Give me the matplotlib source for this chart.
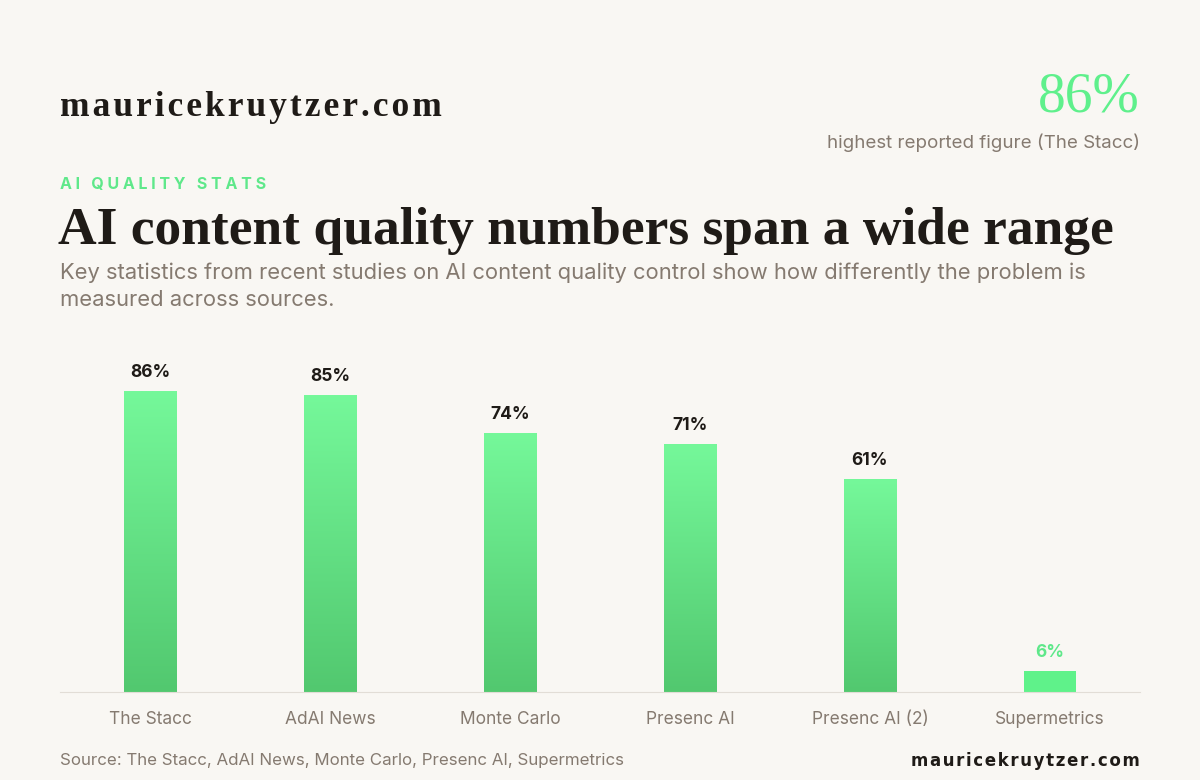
import matplotlib
matplotlib.use("Agg")
import matplotlib.pyplot as plt
import numpy as np
from matplotlib.colors import LinearSegmentedColormap

categories = ["The Stacc", "AdAI News", "Monte Carlo", "Presenc AI", "Presenc AI (2)", "Supermetrics"]
values = [86, 85, 74, 71, 61, 6]

BG = "#F9F7F3"
fig = plt.figure(figsize=(12, 7.8), dpi=100, facecolor=BG)
ax = fig.add_axes([60/1200, 1-692/780, 1080/1200, 349/780], facecolor=BG)

cmap = LinearSegmentedColormap.from_list("g", ["#52C86F", "#75F89A"])
grad = np.linspace(0, 1, 256).reshape(-1, 1)
w = 0.29
for i, (c, v) in enumerate(zip(categories, values)):
    if v < 10:
        ax.bar(i, v, width=w, color="#5FF28A", zorder=2)
        ax.text(i, v + 3, f"{v}%", ha="center", va="bottom", fontsize=12.5,
                color="#5FE88A", fontweight="bold", family="Inter")
    else:
        ax.imshow(grad, cmap=cmap, origin="lower", aspect="auto",
                  extent=(i - w/2, i + w/2, 0, v), zorder=2)
        ax.text(i, v + 3, f"{v}%", ha="center", va="bottom", fontsize=12.5,
                color="#1F1B17", fontweight="bold", family="Inter")
ax.set_xlim(-0.5, 5.5)
ax.set_ylim(0, 100)
ax.set_xticks(range(len(categories)))
ax.set_xticklabels(categories, fontsize=12.5, color="#857A70", family="Inter")
ax.tick_params(axis="x", length=0, pad=14)
ax.set_yticks([])
for s in ["top", "right", "left"]:
    ax.spines[s].set_visible(False)
ax.spines["bottom"].set_color("#E2DDD6")

hs = "\u200a"
fig.text(60/1200, 1-108/780, hs.join("mauricekruytzer.com"), fontsize=25.5, fontweight="bold",
         family="Liberation Serif", color="#1F1B17", va="center")
fig.text(1140/1200, 1-98/780, "86%", fontsize=40, family="Liberation Serif",
         color="#5FF08C", ha="right", va="center")
fig.text(1140/1200, 1-143/780, "highest reported figure (The Stacc)", fontsize=13.5,
         family="Inter", color="#857A70", ha="right", va="center")
fig.text(60/1200, 1-184/780, "A I   Q U A L I T Y   S T A T S", fontsize=11.5,
         family="Inter", fontweight="bold", color="#5FE88A", va="center")
fig.text(58/1200, 1-231/780, "AI content quality numbers span a wide range", fontsize=38.5,
         fontweight="bold", family="Liberation Serif", color="#1F1B17", va="center")
fig.text(60/1200, 1-273/780, "Key statistics from recent studies on AI content quality control show how differently the problem is",
         fontsize=15.8, family="Inter", color="#857A70", va="center")
fig.text(60/1200, 1-300/780, "measured across sources.",
         fontsize=15.8, family="Inter", color="#857A70", va="center")
fig.text(60/1200, 1-761/780, "Source: The Stacc, AdAI News, Monte Carlo, Presenc AI, Supermetrics",
         fontsize=12.2, family="Inter", color="#857A70", va="center")
fig.text(1140/1200, 1-761/780, hs.join("mauricekruytzer.com"), fontsize=12, family="DejaVu Sans",
         fontweight="bold", color="#1F1B17", ha="right", va="center")

fig.savefig("out.png", dpi=100, facecolor=BG)
